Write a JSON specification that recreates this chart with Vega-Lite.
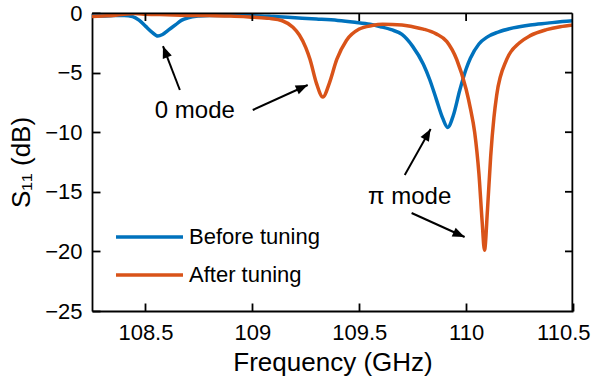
{
  "$schema": "https://vega.github.io/schema/vega-lite/v6.json",
  "width": 481,
  "height": 298,
  "autosize": "none",
  "padding": {"left": 92, "top": 13, "right": 19, "bottom": 72},
  "background": "white",
  "config": {
    "view": {"stroke": null},
    "font": "Liberation Sans",
    "axis": {
      "domainColor": "black", "domainWidth": 1.8, "tickColor": "black", "tickWidth": 1.8,
      "tickSize": -8, "labelColor": "black", "titleColor": "black", "grid": false,
      "labelFont": "Liberation Sans", "titleFont": "Liberation Sans",
      "labelFontSize": 22, "titleFontSize": 26, "titleFontWeight": "normal"
    }
  },
  "datasets": {
    "curves": [
      {"f": 108.25, "s11": -0.25, "series": "Before tuning"},
      {"f": 108.30, "s11": -0.25, "series": "Before tuning"},
      {"f": 108.35, "s11": -0.22, "series": "Before tuning"},
      {"f": 108.40, "s11": -0.2, "series": "Before tuning"},
      {"f": 108.44, "s11": -0.3, "series": "Before tuning"},
      {"f": 108.47, "s11": -0.6, "series": "Before tuning"},
      {"f": 108.50, "s11": -1.1, "series": "Before tuning"},
      {"f": 108.53, "s11": -1.6, "series": "Before tuning"},
      {"f": 108.558, "s11": -1.93, "series": "Before tuning"},
      {"f": 108.58, "s11": -1.8, "series": "Before tuning"},
      {"f": 108.61, "s11": -1.4, "series": "Before tuning"},
      {"f": 108.64, "s11": -1.0, "series": "Before tuning"},
      {"f": 108.67, "s11": -0.6, "series": "Before tuning"},
      {"f": 108.70, "s11": -0.4, "series": "Before tuning"},
      {"f": 108.75, "s11": -0.25, "series": "Before tuning"},
      {"f": 108.80, "s11": -0.2, "series": "Before tuning"},
      {"f": 108.90, "s11": -0.2, "series": "Before tuning"},
      {"f": 109.00, "s11": -0.22, "series": "Before tuning"},
      {"f": 109.10, "s11": -0.3, "series": "Before tuning"},
      {"f": 109.20, "s11": -0.4, "series": "Before tuning"},
      {"f": 109.30, "s11": -0.5, "series": "Before tuning"},
      {"f": 109.40, "s11": -0.62, "series": "Before tuning"},
      {"f": 109.48, "s11": -0.78, "series": "Before tuning"},
      {"f": 109.55, "s11": -0.95, "series": "Before tuning"},
      {"f": 109.60, "s11": -1.15, "series": "Before tuning"},
      {"f": 109.65, "s11": -1.4, "series": "Before tuning"},
      {"f": 109.70, "s11": -1.8, "series": "Before tuning"},
      {"f": 109.75, "s11": -2.8, "series": "Before tuning"},
      {"f": 109.80, "s11": -4.3, "series": "Before tuning"},
      {"f": 109.83, "s11": -5.6, "series": "Before tuning"},
      {"f": 109.86, "s11": -7.2, "series": "Before tuning"},
      {"f": 109.89, "s11": -8.8, "series": "Before tuning"},
      {"f": 109.914, "s11": -9.6, "series": "Before tuning"},
      {"f": 109.94, "s11": -8.6, "series": "Before tuning"},
      {"f": 109.97, "s11": -6.5, "series": "Before tuning"},
      {"f": 110.00, "s11": -4.7, "series": "Before tuning"},
      {"f": 110.02, "s11": -3.8, "series": "Before tuning"},
      {"f": 110.06, "s11": -2.6, "series": "Before tuning"},
      {"f": 110.10, "s11": -2.0, "series": "Before tuning"},
      {"f": 110.15, "s11": -1.6, "series": "Before tuning"},
      {"f": 110.22, "s11": -1.25, "series": "Before tuning"},
      {"f": 110.30, "s11": -1.0, "series": "Before tuning"},
      {"f": 110.38, "s11": -0.85, "series": "Before tuning"},
      {"f": 110.45, "s11": -0.72, "series": "Before tuning"},
      {"f": 110.50, "s11": -0.65, "series": "Before tuning"},
      {"f": 108.25, "s11": -0.3, "series": "After tuning"},
      {"f": 108.30, "s11": -0.25, "series": "After tuning"},
      {"f": 108.35, "s11": -0.2, "series": "After tuning"},
      {"f": 108.40, "s11": -0.1, "series": "After tuning"},
      {"f": 108.45, "s11": -0.05, "series": "After tuning"},
      {"f": 108.50, "s11": -0.1, "series": "After tuning"},
      {"f": 108.60, "s11": -0.15, "series": "After tuning"},
      {"f": 108.70, "s11": -0.2, "series": "After tuning"},
      {"f": 108.80, "s11": -0.22, "series": "After tuning"},
      {"f": 108.90, "s11": -0.25, "series": "After tuning"},
      {"f": 109.00, "s11": -0.35, "series": "After tuning"},
      {"f": 109.08, "s11": -0.45, "series": "After tuning"},
      {"f": 109.14, "s11": -0.65, "series": "After tuning"},
      {"f": 109.19, "s11": -1.2, "series": "After tuning"},
      {"f": 109.22, "s11": -1.85, "series": "After tuning"},
      {"f": 109.25, "s11": -2.9, "series": "After tuning"},
      {"f": 109.27, "s11": -3.9, "series": "After tuning"},
      {"f": 109.30, "s11": -5.9, "series": "After tuning"},
      {"f": 109.33, "s11": -7.05, "series": "After tuning"},
      {"f": 109.36, "s11": -5.9, "series": "After tuning"},
      {"f": 109.395, "s11": -3.9, "series": "After tuning"},
      {"f": 109.44, "s11": -2.3, "series": "After tuning"},
      {"f": 109.50, "s11": -1.35, "series": "After tuning"},
      {"f": 109.56, "s11": -1.05, "series": "After tuning"},
      {"f": 109.61, "s11": -0.95, "series": "After tuning"},
      {"f": 109.70, "s11": -1.0, "series": "After tuning"},
      {"f": 109.75, "s11": -1.15, "series": "After tuning"},
      {"f": 109.80, "s11": -1.35, "series": "After tuning"},
      {"f": 109.86, "s11": -1.75, "series": "After tuning"},
      {"f": 109.91, "s11": -2.4, "series": "After tuning"},
      {"f": 109.956, "s11": -3.9, "series": "After tuning"},
      {"f": 110.00, "s11": -6.4, "series": "After tuning"},
      {"f": 110.02, "s11": -8.0, "series": "After tuning"},
      {"f": 110.04, "s11": -10.0, "series": "After tuning"},
      {"f": 110.06, "s11": -13.5, "series": "After tuning"},
      {"f": 110.075, "s11": -17.5, "series": "After tuning"},
      {"f": 110.086, "s11": -19.9, "series": "After tuning"},
      {"f": 110.10, "s11": -16.5, "series": "After tuning"},
      {"f": 110.115, "s11": -12.0, "series": "After tuning"},
      {"f": 110.13, "s11": -8.8, "series": "After tuning"},
      {"f": 110.143, "s11": -6.9, "series": "After tuning"},
      {"f": 110.19, "s11": -3.9, "series": "After tuning"},
      {"f": 110.25, "s11": -2.5, "series": "After tuning"},
      {"f": 110.30, "s11": -1.9, "series": "After tuning"},
      {"f": 110.376, "s11": -1.4, "series": "After tuning"},
      {"f": 110.44, "s11": -1.15, "series": "After tuning"},
      {"f": 110.50, "s11": -1.0, "series": "After tuning"}
    ],
    "arrows": [
      {"arrow": "A", "x": 108.661, "y": -6.46, "x2": 108.582, "y2": -2.77},
      {"arrow": "B", "x": 109.002, "y": -8.14, "x2": 109.259, "y2": -6.04},
      {"arrow": "C", "x": 109.713, "y": -13.59, "x2": 109.834, "y2": -9.73},
      {"arrow": "D", "x": 109.745, "y": -16.78, "x2": 109.993, "y2": -18.79}
    ],
    "labels": [
      {"x": 108.731, "y": -8.22, "text": "0 mode"},
      {"x": 109.736, "y": -15.44, "text": "π mode"}
    ],
    "frame": [
      {"x": 108.25, "x2": 110.497, "y": -0.03, "y2": -0.03},
      {"x": 110.497, "x2": 110.497, "y": -24.99, "y2": -0.03},
      {"x": 108.5, "x2": 108.5, "y": -0.03, "y2": -0.67},
      {"x": 109, "x2": 109, "y": -0.03, "y2": -0.67},
      {"x": 109.5, "x2": 109.5, "y": -0.03, "y2": -0.67},
      {"x": 110, "x2": 110, "y": -0.03, "y2": -0.67},
      {"x": 110.497, "x2": 110.4626, "y": -20, "y2": -20},
      {"x": 110.497, "x2": 110.4626, "y": -15, "y2": -15},
      {"x": 110.497, "x2": 110.4626, "y": -10, "y2": -10},
      {"x": 110.497, "x2": 110.4626, "y": -5, "y2": -5}
    ]
  },
  "layer": [
    {
      "data": {"name": "curves"},
      "mark": {"type": "line", "strokeWidth": 3.5, "interpolate": "monotone", "clip": true},
      "encoding": {
        "x": {"field": "f", "type": "quantitative",
              "scale": {"domain": [108.25, 110.5], "nice": false, "zero": false},
              "axis": {"orient": "bottom", "values": [108.5, 109, 109.5, 110, 110.5], "format": "~g", "title": "Frequency (GHz)",
                       "labelPadding": 19, "titlePadding": 6, "labelFlush": 1, "labelFlushOffset": 17}},
        "y": {"field": "s11", "type": "quantitative",
              "scale": {"domain": [-25, 0], "nice": false, "zero": false},
              "axis": {"orient": "left", "values": [-25, -20, -15, -10, -5, 0], "title": "S₁₁ (dB)", "labelPadding": 18, "titlePadding": 10, "labelFlush": false}},
        "color": {"field": "series", "type": "nominal",
                  "scale": {"domain": ["Before tuning", "After tuning"], "range": ["#0072BD", "#D95319"]},
                  "legend": {"title": null, "orient": "none", "legendX": 22, "legendY": 213,
                             "symbolType": "stroke", "symbolSize": 4489, "symbolStrokeWidth": 3.5,
                             "clipHeight": 22,
                             "labelFontSize": 22, "labelFont": "Liberation Sans", "labelColor": "black",
                             "labelOffset": 4, "rowPadding": 16, "padding": 0}},
        "detail": {"field": "series"}
      }
    },
    {
      "data": {"name": "frame"},
      "mark": {"type": "rule", "color": "black", "strokeWidth": 1.8},
      "encoding": {
        "x": {"field": "x", "type": "quantitative"},
        "x2": {"field": "x2"},
        "y": {"field": "y", "type": "quantitative"},
        "y2": {"field": "y2"}
      }
    },
    {
      "data": {"name": "arrows"},
      "mark": {"type": "rule", "color": "black", "strokeWidth": 2},
      "encoding": {
        "x": {"field": "x", "type": "quantitative"},
        "x2": {"field": "x2"},
        "y": {"field": "y", "type": "quantitative"},
        "y2": {"field": "y2"}
      }
    },
    {
      "data": {"name": "arrows"},
      "transform": [{"filter": "datum.arrow === 'A'"}],
      "mark": {"type": "point", "shape": "M0,0L-0.4,1L0.4,1Z", "filled": true, "color": "black", "size": 576, "opacity": 1, "angle": 339},
      "encoding": {"x": {"field": "x2", "type": "quantitative"}, "y": {"field": "y2", "type": "quantitative"}}
    },
    {
      "data": {"name": "arrows"},
      "transform": [{"filter": "datum.arrow === 'B'"}],
      "mark": {"type": "point", "shape": "M0,0L-0.4,1L0.4,1Z", "filled": true, "color": "black", "size": 576, "opacity": 1, "angle": 65.6},
      "encoding": {"x": {"field": "x2", "type": "quantitative"}, "y": {"field": "y2", "type": "quantitative"}}
    },
    {
      "data": {"name": "arrows"},
      "transform": [{"filter": "datum.arrow === 'C'"}],
      "mark": {"type": "point", "shape": "M0,0L-0.4,1L0.4,1Z", "filled": true, "color": "black", "size": 576, "opacity": 1, "angle": 29.5},
      "encoding": {"x": {"field": "x2", "type": "quantitative"}, "y": {"field": "y2", "type": "quantitative"}}
    },
    {
      "data": {"name": "arrows"},
      "transform": [{"filter": "datum.arrow === 'D'"}],
      "mark": {"type": "point", "shape": "M0,0L-0.4,1L0.4,1Z", "filled": true, "color": "black", "size": 576, "opacity": 1, "angle": 114.4},
      "encoding": {"x": {"field": "x2", "type": "quantitative"}, "y": {"field": "y2", "type": "quantitative"}}
    },
    {
      "data": {"name": "labels"},
      "mark": {"type": "text", "fontSize": 24, "font": "Liberation Sans", "color": "black", "align": "center", "baseline": "middle"},
      "encoding": {
        "x": {"field": "x", "type": "quantitative"},
        "y": {"field": "y", "type": "quantitative"},
        "text": {"field": "text"}
      }
    }
  ]
}
